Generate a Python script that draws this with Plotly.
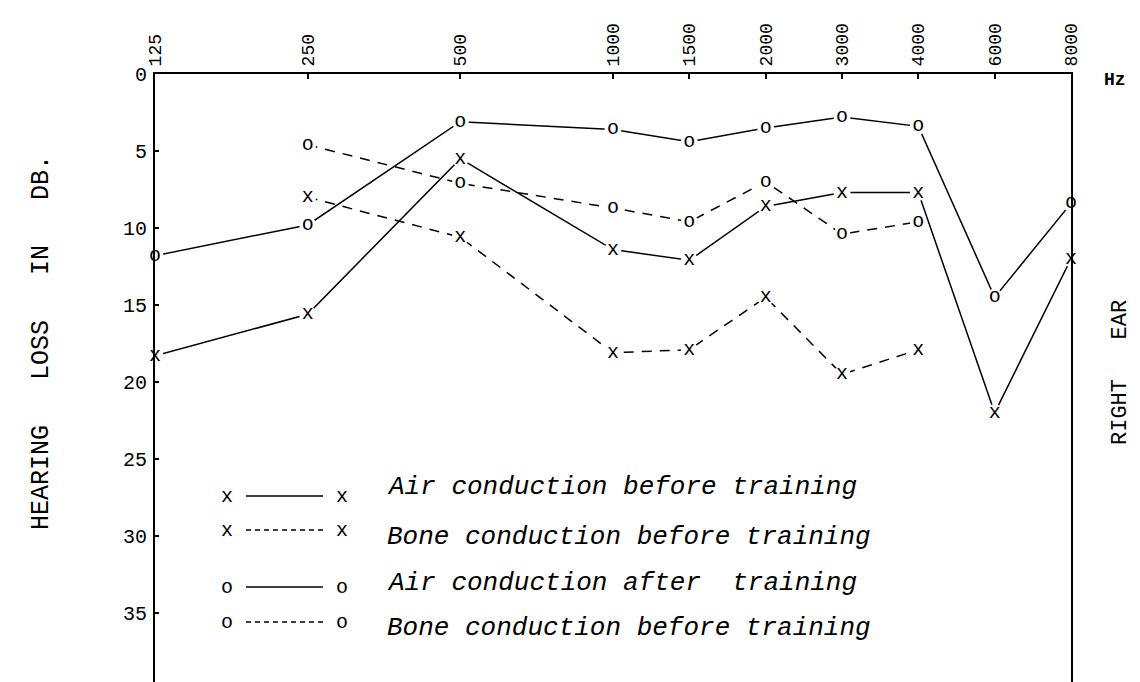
import math
import plotly.graph_objects as go

# ---------------- data ----------------
freq_ticks = [125, 250, 500, 1000, 1500, 2000, 3000, 4000, 6000, 8000]
freq_tick_labels = ["125", "250", "500", "1000", "1500", "2000", "3000", "4000", "6000", "8000"]
db_ticks = [0, 5, 10, 15, 20, 25, 30, 35]

freqs_air = [125, 250, 500, 1000, 1500, 2000, 3000, 4000, 6000, 8000]
air_before = [18.3, 15.6, 5.5, 11.4, 12.1, 8.6, 7.7, 7.7, 22.0, 12.0]
air_after = [11.8, 9.8, 3.1, 3.6, 4.4, 3.5, 2.8, 3.4, 14.5, 8.4]

freqs_bone = [250, 500, 1000, 1500, 2000, 3000, 4000]
bone_before = [8.0, 10.6, 18.1, 17.9, 14.5, 19.5, 17.9]
bone_after = [4.6, 7.1, 8.7, 9.6, 7.0, 10.4, 9.6]

legend_labels = [
    "Air conduction before training",
    "Bone conduction before training",
    "Air conduction after\u00a0\u00a0training",
    "Bone conduction before training",
]


def audiogram_pos(f):
    """Audiogram scale: octaves above 125 Hz, inter-octave frequencies at half steps."""
    return round(2 * math.log2(f / 125.0)) / 2.0


MONO = "Liberation Mono"

fig = go.Figure()

series = [
    (freqs_air, air_before, "x", "solid"),
    (freqs_bone, bone_before, "x", "10px,8px"),
    (freqs_air, air_after, "o", "solid"),
    (freqs_bone, bone_after, "o", "10px,8px"),
]

for fr, vals, sym, dash in series:
    fig.add_trace(go.Scatter(
        x=[audiogram_pos(f) for f in fr],
        y=vals,
        mode="lines+markers+text",
        text=[sym] * len(vals),
        textposition="middle center",
        textfont=dict(family=MONO, size=20, color="black"),
        marker=dict(size=17, color="white", line=dict(width=0)),
        line=dict(color="black", width=1.5, dash=dash),
        cliponaxis=False,
        hoverinfo="skip",
        showlegend=False,
    ))

# ---------------- layout ----------------
L, R, T, B = 147, 77, 66, 0
W, H = 1140, 682
pw, ph = W - L - R, H - T - B


def px(xp):
    return (xp - L) / pw


def py(yp):
    return 1 - (yp - T) / ph


fig.update_layout(
    width=W, height=H, autosize=False,
    margin=dict(l=L, r=R, t=T, b=B, autoexpand=False),
    paper_bgcolor="white", plot_bgcolor="white",
    showlegend=False,
    xaxis=dict(
        side="top",
        range=[0, 6],
        tickvals=[audiogram_pos(f) for f in freq_ticks],
        ticktext=freq_tick_labels,
        tickangle=-90,
        tickfont=dict(family=MONO, size=18, color="black"),
        ticks="inside", ticklen=5, tickcolor="black", tickwidth=1.5,
        showline=True, linecolor="black", linewidth=2,
        showgrid=False, zeroline=False,
        ticklabelstandoff=2,
        automargin=False,
    ),
    yaxis=dict(
        range=[40, 0],
        tickvals=db_ticks,
        ticktext=[str(v) for v in db_ticks],
        tickfont=dict(family=MONO, size=20, color="black"),
        ticks="inside", ticklen=4, tickcolor="black", tickwidth=1.5,
        showline=True, linecolor="black", linewidth=2, mirror=True,
        showgrid=False, zeroline=False,
        ticklabelstandoff=2,
        automargin=False,
    ),
)

annotations = []
shapes = []

# axis titles / side labels
annotations.append(dict(
    x=px(33), y=py(335), xref="paper", yref="paper",
    text="HEARING\u00a0\u00a0\u00a0LOSS\u00a0\u00a0\u00a0IN\u00a0\u00a0\u00a0DB.",
    textangle=-90, showarrow=False,
    font=dict(family=MONO, size=25, color="black"),
    xanchor="center", yanchor="middle",
))
annotations.append(dict(
    x=px(1112), y=py(365), xref="paper", yref="paper",
    text="RIGHT\u00a0\u00a0\u00a0EAR",
    textangle=-90, showarrow=False,
    font=dict(family=MONO, size=22, color="black"),
    xanchor="center", yanchor="middle",
))
annotations.append(dict(
    x=px(1107), y=py(72), xref="paper", yref="paper",
    text="<b>Hz</b>", showarrow=False,
    font=dict(family=MONO, size=18, color="black"),
    xanchor="center", yanchor="middle",
))

# legend (drawn inside the plot like the original)
text_rows = [479, 529, 575, 620]
marker_rows = [488, 522, 579, 614]
legend_syms = ["x", "x", "o", "o"]
legend_dash = ["solid", "5px,4px", "solid", "5px,4px"]
for lab, ty, my, sym, dsh in zip(legend_labels, text_rows, marker_rows, legend_syms, legend_dash):
    annotations.append(dict(
        x=px(377), y=py(ty), xref="paper", yref="paper",
        text="<i>" + lab + "</i>", showarrow=False,
        font=dict(family=MONO, size=26, color="black"),
        xanchor="left", yanchor="middle",
    ))
    for xx in (219, 334):
        annotations.append(dict(
            x=px(xx), y=py(my), xref="paper", yref="paper",
            text=sym, showarrow=False,
            font=dict(family=MONO, size=20, color="black"),
            xanchor="center", yanchor="middle",
        ))
    shapes.append(dict(
        type="line", xref="paper", yref="paper",
        x0=px(238), x1=px(315), y0=py(my), y1=py(my),
        line=dict(color="black", width=1.5, dash=dsh),
    ))

fig.update_layout(annotations=annotations, shapes=shapes)

fig.write_html("out.html")
